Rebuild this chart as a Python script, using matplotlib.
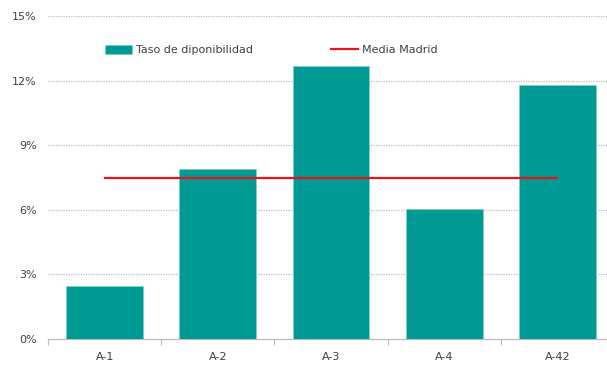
import matplotlib
matplotlib.use("Agg")
import matplotlib.pyplot as plt
from matplotlib.ticker import FuncFormatter

# Availability rate by motorway corridor vs. Madrid average
categories = ["A-1", "A-2", "A-3", "A-4", "A-42"]
tasa_disponibilidad = [2.45, 7.9, 12.7, 6.05, 11.8]
media_madrid = 7.5
y_ticks = [0, 3, 6, 9, 12, 15]

teal = "#009A95"
red = "#E8141B"
text_gray = "#404040"

plt.rcParams["font.family"] = ["DejaVu Sans"]

fig = plt.figure(figsize=(6.07, 3.67), dpi=100)
ax = fig.add_axes([48 / 607, 28 / 367, 566 / 607, 323 / 367])

x = list(range(len(categories)))
bars = ax.bar(x, tasa_disponibilidad, width=0.68, color=teal,
              edgecolor="#7FCFCB", linewidth=0.6, zorder=3,
              label="Taso de diponibilidad")
line, = ax.plot(x, [media_madrid] * len(x), color=red, linewidth=1.6,
                zorder=4, label="Media Madrid")

ax.set_xlim(-0.5, len(categories) - 0.5)
ax.set_ylim(0, 15)
ax.set_yticks(y_ticks)
ax.yaxis.set_major_formatter(FuncFormatter(lambda v, p: f"{v:.0f}%"))
ax.set_xticks(x)
ax.set_xticklabels(categories)

# category boundary ticks on the base line
ax.set_xticks([i - 0.5 for i in range(len(categories) + 1)], minor=True)
ax.tick_params(axis="x", which="major", length=0, pad=9,
               labelsize=8, labelcolor=text_gray)
ax.tick_params(axis="x", which="minor", length=4, width=0.8, color="#BBBBBB")
ax.tick_params(axis="y", length=0, pad=8, labelsize=8, labelcolor=text_gray)

for y in y_ticks[1:]:
    ax.axhline(y, color="#BDBDBD", linewidth=0.9,
               linestyle=(0, (1.0, 1.0)), zorder=1)

for side in ["top", "right", "left"]:
    ax.spines[side].set_visible(False)
ax.spines["bottom"].set_color("#BBBBBB")
ax.spines["bottom"].set_linewidth(0.9)

leg = ax.legend([bars, line], ["Taso de diponibilidad", "Media Madrid"],
                loc="upper left", bbox_to_anchor=(0.083, 0.94), ncol=2,
                frameon=False, fontsize=8, handlelength=2.4,
                handleheight=0.8, handletextpad=0.4, columnspacing=7.0,
                labelcolor=text_gray)

fig.savefig("out.png", dpi=100)
